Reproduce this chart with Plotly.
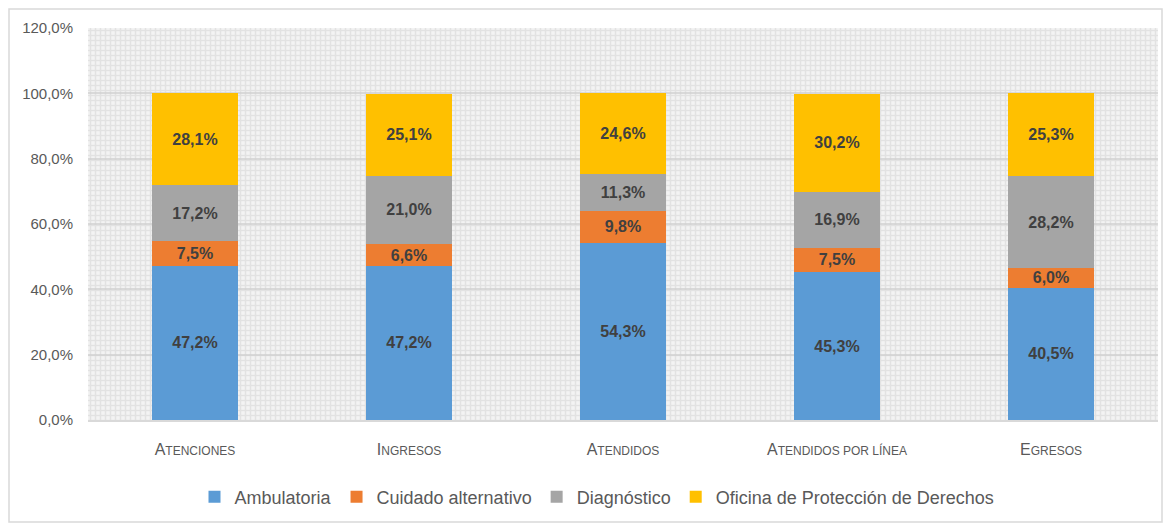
import plotly.graph_objects as go

categories = ["Atenciones", "Ingresos", "Atendidos", "Atendidos por línea", "Egresos"]
SC = "<span style='font-size:12px'>{}</span>"
tick_labels = [
    "A" + SC.format("TENCIONES"),
    "I" + SC.format("NGRESOS"),
    "A" + SC.format("TENDIDOS"),
    "A" + SC.format("TENDIDOS POR LÍNEA"),
    "E" + SC.format("GRESOS"),
]
ambulatoria = [47.2, 47.2, 54.3, 45.3, 40.5]
cuidado = [7.5, 6.6, 9.8, 7.5, 6.0]
diagnostico = [17.2, 21.0, 11.3, 16.9, 28.2]
oficina = [28.1, 25.1, 24.6, 30.2, 25.3]
y_ticks = [0, 20, 40, 60, 80, 100, 120]
y_tick_text = [f"{v:.1f}".replace(".", ",") + "%" for v in y_ticks]

series = [
    ("Ambulatoria", ambulatoria, "#5B9BD5"),
    ("Cuidado alternativo", cuidado, "#ED7D31"),
    ("Diagnóstico", diagnostico, "#A5A5A5"),
    ("Oficina de Protección de Derechos", oficina, "#FFC000"),
]

FONT = "Liberation Sans, Arial, sans-serif"

# plot area in page pixels (page body has an 8px margin)
PL, PR, PT, PB = 88, 1158, 28, 420
PW, PH = PR - PL, PB - PT

fig = go.Figure()

# patterned plot-area background
fig.add_trace(go.Bar(
    x=[0.5], y=[y_ticks[-1]], width=[1], xaxis="x", yaxis="y",
    marker=dict(color="rgba(0,0,0,0)", line=dict(width=0),
                pattern=dict(shape="+", size=5, solidity=0.5,
                             fgcolor="#d2d2d2", bgcolor="rgba(255,255,255,0)")),
    showlegend=False, hoverinfo="skip",
))

for name, vals, color in series:
    fig.add_trace(go.Bar(
        x=categories, y=vals, name=name, xaxis="x2", yaxis="y",
        marker=dict(color=color, line=dict(width=0)),
        texttemplate="%{y:.1f}%", textposition="inside",
        insidetextanchor="middle", constraintext="none", textangle=0,
        textfont=dict(family=FONT, size=16, color="#404040", weight="bold"),
    ))

fig.update_layout(
    width=1155, height=515,
    barmode="stack", bargap=0.6,
    separators=",.",
    paper_bgcolor="white", plot_bgcolor="#f3f3f3",
    margin=dict(l=PL - 8, r=1163 - PR, t=PT - 8, b=523 - PB),
    font=dict(family=FONT, color="#595959"),
    xaxis=dict(range=[0, 1], visible=False, fixedrange=True),
    xaxis2=dict(overlaying="x", anchor="y", side="bottom", type="category",
                tickvals=categories, ticktext=tick_labels,
                tickfont=dict(size=16, color="#595959"),
                ticks="outside", ticklen=14, tickcolor="rgba(0,0,0,0)",
                showline=True, linecolor="#d9d9d9", linewidth=2,
                showgrid=False),
    yaxis=dict(range=[0, 120], tickvals=y_ticks, ticktext=y_tick_text,
               tickfont=dict(size=15, color="#595959"),
               showgrid=True, gridcolor="#d9d9d9", gridwidth=2,
               zeroline=False, ticks="outside", ticklen=11,
               tickcolor="rgba(0,0,0,0)"),
    legend=dict(orientation="h", x=(597 - PL) / PW, xanchor="center",
                y=(PB - 497) / PH, yanchor="middle",
                font=dict(size=18, color="#595959"),
                traceorder="normal", itemwidth=30),
    shapes=[dict(type="rect", xref="paper", yref="paper",
                 x0=(9 - PL) / PW, x1=(1162 - PL) / PW,
                 y0=(PB - 522) / PH, y1=(PB - 9) / PH,
                 line=dict(color="#d9d9d9", width=1.5), layer="below")],
)

fig.write_html("out.html")
